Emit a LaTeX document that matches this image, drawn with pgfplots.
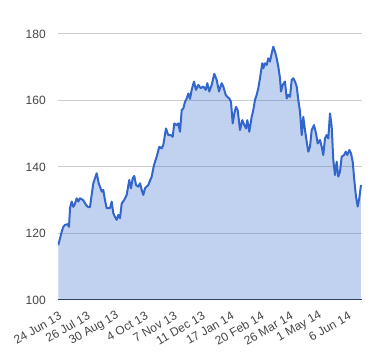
\documentclass[border=0pt]{standalone}
\usepackage{pgfplots}
\pgfplotsset{compat=1.18}
\usepackage{pgfplotstable}
\usepackage{fontspec}
\setmainfont{Liberation Sans}
\definecolor{gblue}{HTML}{3366CC}
\definecolor{gtext}{HTML}{444444}
\definecolor{ggrid}{HTML}{CCCCCC}
\definecolor{gbase}{HTML}{333333}
\pgfplotstableread{
x y
0.3 116.5
3.7 120.5
5.3 122
7 122.6
9.7 122.8
11 122
12 127.6
13.7 129.6
15.3 128
17 129
18.7 130.6
20.3 129.6
22 130.6
25.3 130
28 128.6
30.3 127.9
32 128
35.3 135.1
38.7 138.1
40.7 135.1
42 134.1
43.7 132.6
45.3 133.1
47 130
48.7 127.6
52 127.6
53.7 129.6
55.3 126.1
57 125
58.7 124.1
60.3 125.6
62 124.6
63.7 129
66 130
68.7 131.6
71.3 136.1
73 133.6
74.7 136.6
76.3 137.3
78 134.6
80.3 134.1
82 135.1
83.7 133.1
85.3 131.6
87 133.6
90.3 134.6
93.7 137.1
96 140.6
98.7 143.1
101.3 146.1
103.7 145.6
105.3 146.6
108 151.6
110.3 149.6
112.7 149.6
114.7 149.1
116.3 153.1
118.7 152.6
120.3 153.1
122 150.6
123.7 157.1
125.3 157.6
127 159.6
128.7 160.6
130.3 162.1
132 160.5
133.7 163.2
136 165.7
138 163.2
140.3 164.7
142.7 163.7
145.3 164.2
147.7 163.2
149.3 165.2
151.3 162.7
153.7 164.7
156.3 168
158.7 166.2
161 162.7
163.7 165.2
165.3 164.2
167.7 161.7
169.3 161.1
171.3 160.6
173 159.6
174.7 153.1
176.3 156.1
178 158.1
179.7 157.1
182 151.1
184.3 154.1
186.3 152.6
188 151.6
189.3 154.1
191.3 150.6
193.7 155.1
195.3 157.1
197 160.2
198.7 161.7
200.3 163.7
202 166.7
203 168.7
204.3 171.2
205.3 169.7
207 171.2
208.7 170.7
210.3 172.7
212 171.7
213.7 174.2
215.3 176.2
217 174.7
218.7 172.7
220.3 170.2
222 166.7
223 162.7
224.7 164.7
227 165.7
228.7 160.6
230.3 161.7
232 161.1
233.7 166.2
235.3 166.7
237 165.7
238.7 164.2
240.3 160.2
242 156.7
243.7 149.6
245.3 155.1
247 151.1
248.7 147.6
250.3 144.6
252 146.1
253.7 151.1
256 152.6
258 150.1
259.7 147.1
262 148.1
263.7 146.1
265.3 143.6
267 148.6
268.7 149.6
270.3 148.6
272 156.1
273.7 152.1
275.3 142.1
277 137.6
278.7 141.6
280.3 137.1
282 138.6
283.7 143.1
286 143.6
287.7 144.6
289.3 143.6
291.3 145.1
293 144.1
294.7 141.6
296.3 136.1
298 131.1
299.7 128.1
301.3 130.6
303 134.6
}\pricedata
\begin{document}
\begin{tikzpicture}
\path[use as bounding box] (-43.5pt,-45pt) rectangle (241.5pt,225pt);
\begin{axis}[
  scale only axis,
  width=228pt, height=199.5pt,
  xmin=0, xmax=304, ymin=100, ymax=180,
  ytick={100,120,140,160,180},
  xtick={2.7,31,60,89,118,146,175,205,234,263,292},
  xticklabels={24 Jun 13,26 Jul 13,30 Aug 13,4 Oct 13,7 Nov 13,11 Dec 13,17 Jan 14,20 Feb 14,26 Mar 14,1 May 14,6 Jun 14},
  major tick length=0pt,
  axis x line*=bottom, axis y line*=left,
  y axis line style={draw=none},
  x axis line style={draw=gbase, line width=0.75pt},
  ymajorgrids, grid style={ggrid, line width=0.75pt},
  tick label style={font=\fontsize{9}{10}\selectfont, text=gtext},
  /pgf/number format/assume math mode=true,
  yticklabel style={anchor=east, inner sep=0pt, xshift=-9pt},
  xticklabel style={inner sep=0pt, yshift=-11pt, rotate=30, anchor=east},
]
\addplot[draw=none, fill=gblue, fill opacity=0.3] table[x=x,y=y] {\pricedata} \closedcycle;
\addplot[gblue, line width=1.5pt, line join=round] table[x=x,y=y] {\pricedata};
\end{axis}
\end{tikzpicture}
\end{document}
